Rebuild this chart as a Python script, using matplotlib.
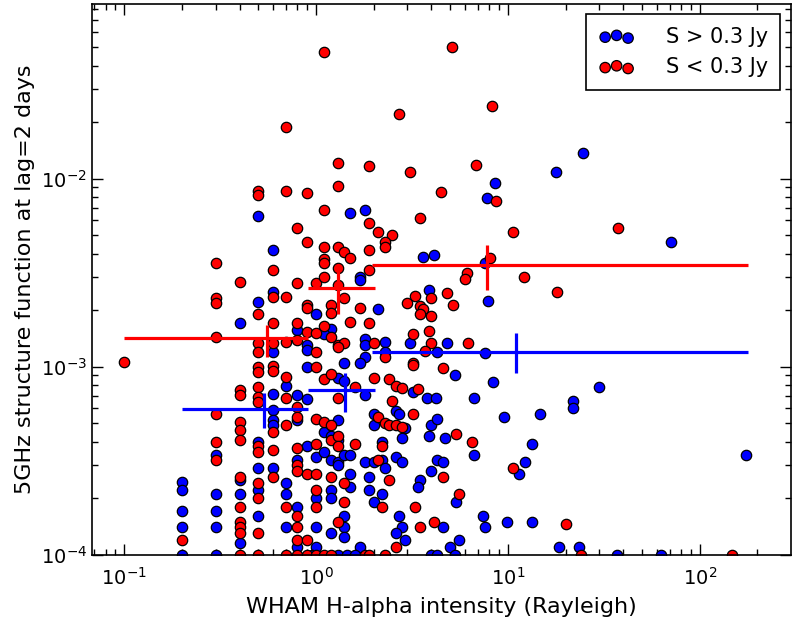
import numpy as np
import matplotlib
matplotlib.use("Agg")
import matplotlib.pyplot as plt

# --- scatter data (WHAM H-alpha, structure function) ---
bright_x = [0.5, 1.5, 1.8, 0.6, 1.7, 1.7, 0.6, 8.6, 7.8, 3.6, 4.1, 7.6, 3.9, 7.9,
            2.1, 24.6, 17.8, 70.7, 0.5, 0.4, 1.0, 1.2, 0.8, 1.1, 0.6, 0.9, 0.9,
            1.8, 1.8, 2.3, 3.1, 4.8, 2.3, 4.3, 7.6, 1.8, 1.4, 1.7, 5.3, 8.4, 1.3,
            1.4, 0.9, 0.7, 0.6, 0.8, 0.9, 1.8, 3.2, 3.8, 4.2, 6.7, 2.6, 2.7, 0.6,
            0.6, 0.6, 0.8, 1.1, 1.2, 1.3, 2.0, 2.0, 2.9, 4.0, 4.3, 1.3, 2.8, 3.9,
            4.7, 6.7, 9.6, 30, 22, 22, 14.7, 13.3, 11.5, 12.3, 174, 7.4, 7.6, 9.9,
            13.3, 18.4, 23.5, 5.6, 5.0, 0.3, 0.5, 0.8, 0.9, 1.0, 1.1, 1.2, 1.3,
            1.3, 1.4, 1.5, 2.2, 1.8, 2.0, 2.2, 2.6, 2.8, 2.3, 4.0, 4.3, 4.6, 0.5,
            0.6, 1.5, 1.9, 1.5, 1.9, 2.2, 3.5, 3.4, 5.4, 2.0, 1.4, 2.7, 2.8, 4.6,
            2.6, 2.9, 1.4, 1.4, 1.7, 0.2, 0.2, 0.4, 0.3, 0.4, 0.5, 0.7, 0.7, 0.8,
            1.0, 1.2, 1.2, 0.2, 0.3, 0.5, 0.2, 0.3, 0.4, 0.7, 0.8, 1.0, 1.0, 1.2,
            0.2, 0.3, 0.95, 1.3, 1.45, 1.6, 4.0, 4.3, 5.3, 37, 63]
bright_y = [6.3e-3, 6.6e-3, 6.8e-3, 4.2e-3, 3.0e-3, 2.9e-3, 2.5e-3, 9.5e-3, 7.9e-3,
            3.85e-3, 3.95e-3, 3.57e-3, 2.57e-3, 2.24e-3, 2.03e-3, 1.37e-2, 1.09e-2,
            4.6e-3, 2.22e-3, 1.71e-3, 1.91e-3, 1.59e-3, 1.57e-3, 1.50e-3, 1.20e-3,
            1.31e-3, 1.23e-3, 1.41e-3, 1.31e-3, 1.36e-3, 1.34e-3, 1.34e-3, 1.20e-3,
            1.20e-3, 1.19e-3, 1.13e-3, 1.05e-3, 1.05e-3, 9.0e-4, 8.3e-4, 8.7e-4,
            8.4e-4, 1.0e-3, 7.9e-4, 7.2e-4, 7.1e-4, 6.7e-4, 7.1e-4, 7.3e-4, 6.8e-4,
            6.8e-4, 6.8e-4, 5.8e-4, 5.6e-4, 5.9e-4, 5.2e-4, 4.9e-4, 5.2e-4, 4.5e-4,
            4.3e-4, 5.2e-4, 5.6e-4, 4.9e-4, 4.7e-4, 4.9e-4, 5.3e-4, 4.1e-4, 4.2e-4,
            4.3e-4, 4.2e-4, 3.4e-4, 5.4e-4, 7.8e-4, 6.6e-4, 6.0e-4, 5.6e-4, 3.9e-4,
            2.7e-4, 3.1e-4, 3.4e-4, 1.6e-4, 1.4e-4, 1.5e-4, 1.5e-4, 1.1e-4, 1.1e-4,
            1.2e-4, 1.1e-4, 3.4e-4, 4.0e-4, 3.2e-4, 3.8e-4, 3.3e-4, 3.5e-4, 3.2e-4,
            3.1e-4, 3.0e-4, 3.4e-4, 3.4e-4, 4.0e-4, 3.1e-4, 3.1e-4, 3.2e-4, 3.3e-4,
            3.1e-4, 2.9e-4, 2.8e-4, 3.2e-4, 3.1e-4, 2.9e-4, 2.9e-4, 2.7e-4, 2.6e-4,
            2.3e-4, 2.2e-4, 2.1e-4, 2.5e-4, 2.3e-4, 1.9e-4, 1.9e-4, 1.6e-4, 1.6e-4,
            1.4e-4, 1.4e-4, 1.3e-4, 1.2e-4, 1.4e-4, 1.25e-4, 1.1e-4, 2.44e-4, 2.2e-4,
            2.5e-4, 2.1e-4, 2.1e-4, 2.2e-4, 2.4e-4, 2.1e-4, 1.8e-4, 2.0e-4, 2.2e-4,
            2.0e-4, 1.7e-4, 1.7e-4, 1.6e-4, 1.4e-4, 1.4e-4, 1.15e-4, 1.4e-4, 1.1e-4,
            1.4e-4, 1.1e-4, 1.3e-4, 1e-4, 1e-4, 1e-4, 1e-4, 1e-4, 1e-4, 1e-4, 1e-4,
            1e-4, 1e-4, 1e-4]

faint_x = [1.1, 0.7, 1.3, 1.9, 0.5, 0.5, 0.7, 0.9, 1.3, 1.1, 1.9, 2.1, 0.8, 0.9,
           1.1, 1.3, 1.4, 1.5, 1.9, 0.3, 0.6, 1.1, 1.1, 1.3, 1.9, 0.4, 0.8, 1.0,
           1.1, 1.3, 0.3, 0.3, 0.6, 0.7, 1.4, 3.1, 4.5, 8.7, 3.5, 2.5, 2.3, 2.3,
           6.1, 6.0, 8.1, 3.3, 4.0, 4.8, 3.0, 3.5, 3.6, 3.5, 4.0, 5.2, 1.7, 1.5,
           1.9, 3.9, 3.2, 2.0, 4.0, 6.2, 1.3, 1.4, 2.3, 3.7, 3.2, 0.5, 0.6, 0.9,
           0.9, 1.2, 1.2, 0.8, 1.1, 0.9, 1.0, 1.2, 0.3, 0.5, 0.5, 0.6, 0.7, 0.8,
           1.0, 1.3, 5.1, 2.7, 8.3, 6.8, 10.6, 37.4, 12.2, 18, 0.1, 0.5, 0.5, 0.6,
           0.6, 0.7, 1.0, 1.1, 1.2, 0.4, 0.4, 0.5, 0.5, 0.5, 0.7, 0.3, 0.6, 0.8,
           0.8, 0.7, 0.4, 0.4, 0.4, 1.0, 1.1, 1.2, 1.2, 0.3, 0.3, 0.5, 0.5, 0.6,
           0.8, 0.8, 0.8, 1.0, 0.6, 0.9, 1.0, 1.2, 0.4, 0.5, 0.5, 0.7, 1.0, 1.0,
           0.2, 0.4, 0.4, 0.4, 0.4, 0.5, 0.8, 0.8, 0.8, 0.9, 4.6, 3.2, 2.0, 2.4,
           1.6, 2.6, 2.8, 3.4, 1.3, 2.5, 3.2, 2.1, 2.3, 2.4, 2.6, 2.8, 1.3, 5.4,
           6.5, 1.3, 1.6, 2.2, 2.1, 4.6, 2.4, 1.4, 5.6, 1.4, 2.2, 3.3, 4.1, 3.5,
           2.6, 1.3, 10.7, 20, 0.4, 0.5, 0.7, 0.8, 0.9, 1.0, 1.1, 1.2, 1.8, 1.9,
           2.3, 24, 147]
faint_y = [4.74e-2, 1.89e-2, 1.22e-2, 1.17e-2, 8.6e-3, 8.2e-3, 8.6e-3, 8.4e-3,
           9.1e-3, 6.8e-3, 5.8e-3, 5.2e-3, 5.5e-3, 4.6e-3, 4.35e-3, 4.35e-3,
           4.1e-3, 3.8e-3, 4.2e-3, 3.57e-3, 3.28e-3, 3.76e-3, 3.57e-3, 3.36e-3,
           3.28e-3, 2.83e-3, 2.8e-3, 2.8e-3, 3.0e-3, 2.73e-3, 2.33e-3, 2.19e-3,
           2.36e-3, 2.36e-3, 2.33e-3, 1.09e-2, 8.5e-3, 7.6e-3, 6.2e-3, 5.0e-3,
           4.6e-3, 4.35e-3, 3.16e-3, 2.94e-3, 3.8e-3, 2.39e-3, 2.33e-3, 2.48e-3,
           2.19e-3, 2.11e-3, 2.03e-3, 1.91e-3, 1.87e-3, 2.14e-3, 2.06e-3, 1.73e-3,
           1.71e-3, 1.55e-3, 1.50e-3, 1.34e-3, 1.33e-3, 1.33e-3, 1.31e-3, 1.33e-3,
           1.13e-3, 1.22e-3, 1.05e-3, 1.91e-3, 1.71e-3, 2.14e-3, 2.06e-3, 2.14e-3,
           1.94e-3, 1.71e-3, 1.65e-3, 1.53e-3, 1.52e-3, 1.44e-3, 1.44e-3, 1.34e-3,
           1.20e-3, 1.34e-3, 1.36e-3, 1.38e-3, 1.20e-3, 1.28e-3, 5.03e-2, 2.22e-2,
           2.44e-2, 1.19e-2, 5.2e-3, 5.5e-3, 3.0e-3, 2.5e-3, 1.06e-3, 1.0e-3,
           9.4e-4, 1.01e-3, 9.5e-4, 8.8e-4, 1.0e-3, 8.6e-4, 9.1e-4, 7.5e-4, 7.1e-4,
           7.8e-4, 6.9e-4, 6.5e-4, 6.8e-4, 5.6e-4, 4.5e-4, 6.1e-4, 5.4e-4, 4.9e-4,
           5.1e-4, 4.6e-4, 4.1e-4, 5.3e-4, 5.1e-4, 4.9e-4, 4.1e-4, 4.0e-4, 3.2e-4,
           3.8e-4, 3.5e-4, 3.6e-4, 3.7e-4, 3.0e-4, 2.8e-4, 3.9e-4, 2.6e-4, 2.7e-4,
           2.7e-4, 2.6e-4, 2.6e-4, 2.4e-4, 2.0e-4, 1.8e-4, 2.2e-4, 1.8e-4, 1.2e-4,
           1.8e-4, 1.5e-4, 1.4e-4, 1.3e-4, 1.3e-4, 1.6e-4, 1.4e-4, 1.2e-4, 1.2e-4,
           9.9e-4, 1.02e-3, 8.7e-4, 8.6e-4, 7.8e-4, 7.9e-4, 7.7e-4, 7.6e-4, 6.8e-4,
           6.6e-4, 5.6e-4, 5.4e-4, 5.0e-4, 4.9e-4, 4.9e-4, 4.8e-4, 4.3e-4, 4.4e-4,
           4.0e-4, 3.8e-4, 3.9e-4, 3.8e-4, 3.2e-4, 2.6e-4, 2.5e-4, 2.4e-4, 2.1e-4,
           1.9e-4, 1.8e-4, 1.8e-4, 1.5e-4, 1.4e-4, 1.1e-4, 1.5e-4, 2.9e-4, 1.46e-4,
           1e-4, 1e-4, 1e-4, 1e-4, 1e-4, 1e-4, 1e-4, 1e-4, 1e-4, 1e-4, 1e-4, 1e-4,
           1e-4]

# --- binned means (horizontal bar = bin extent, vertical bar = error) ---
faint_bin_x = [0.556, 1.30, 7.78]
faint_bin_lo = [0.1, 0.91, 1.96]
faint_bin_hi = [0.91, 2.03, 178]
faint_bin_y = [1.43e-3, 2.63e-3, 3.49e-3]
faint_bin_ylo = [1.13e-3, 1.91e-3, 2.57e-3]
faint_bin_yhi = [1.67e-3, 3.40e-3, 4.46e-3]

bright_bin_x = [0.536, 1.42, 11.0]
bright_bin_lo = [0.2, 0.91, 1.96]
bright_bin_hi = [0.91, 2.03, 178]
bright_bin_y = [5.98e-4, 7.55e-4, 1.20e-3]
bright_bin_ylo = [4.73e-4, 5.76e-4, 9.3e-4]
bright_bin_yhi = [7.27e-4, 9.3e-4, 1.52e-3]


def bin_errors(xc, lo, hi, yc, ylo, yhi):
    xc, yc = np.array(xc), np.array(yc)
    xerr = [xc - np.array(lo), np.array(hi) - xc]
    yerr = [yc - np.array(ylo), np.array(yhi) - yc]
    return xerr, yerr


fig = plt.figure(figsize=(7.93, 6.24), dpi=100)
ax = fig.add_axes([0.116, 0.111, 0.881, 0.883])

ax.scatter(bright_x, bright_y, s=56, c='b', edgecolors='k', linewidths=0.9,
           label='S > 0.3 Jy', zorder=2)
ax.scatter(faint_x, faint_y, s=56, c='r', edgecolors='k', linewidths=0.9,
           label='S < 0.3 Jy', zorder=2)

xerr, yerr = bin_errors(faint_bin_x, faint_bin_lo, faint_bin_hi,
                        faint_bin_y, faint_bin_ylo, faint_bin_yhi)
ax.errorbar(faint_bin_x, faint_bin_y, xerr=xerr, yerr=yerr, fmt='none',
            ecolor='r', elinewidth=2.3, capsize=0, zorder=3)
xerr, yerr = bin_errors(bright_bin_x, bright_bin_lo, bright_bin_hi,
                        bright_bin_y, bright_bin_ylo, bright_bin_yhi)
ax.errorbar(bright_bin_x, bright_bin_y, xerr=xerr, yerr=yerr, fmt='none',
            ecolor='b', elinewidth=2.3, capsize=0, zorder=3)

ax.set_xscale('log')
ax.set_yscale('log')
ax.set_xlim(0.068, 298)
ax.set_ylim(1e-4, 0.0853)

ax.tick_params(which='both', direction='in', top=True, right=True,
               labelsize=14)
ax.tick_params(axis='x', which='major', pad=9)
ax.tick_params(which='major', length=8, width=1)
ax.tick_params(which='minor', length=4, width=1)
for sp in ax.spines.values():
    sp.set_linewidth(1.2)

ax.set_xlabel('WHAM H-alpha intensity (Rayleigh)', fontsize=16, labelpad=6)
ax.set_ylabel('5GHz structure function at lag=2 days', fontsize=16)

leg = ax.legend(loc='upper right', scatterpoints=3, fontsize=15,
                fancybox=False, edgecolor='k', framealpha=1,
                borderpad=0.6, handlelength=1.7, handletextpad=1.5,
                borderaxespad=0.5)
leg.get_frame().set_linewidth(1.2)

fig.savefig('out.png', dpi=100)
